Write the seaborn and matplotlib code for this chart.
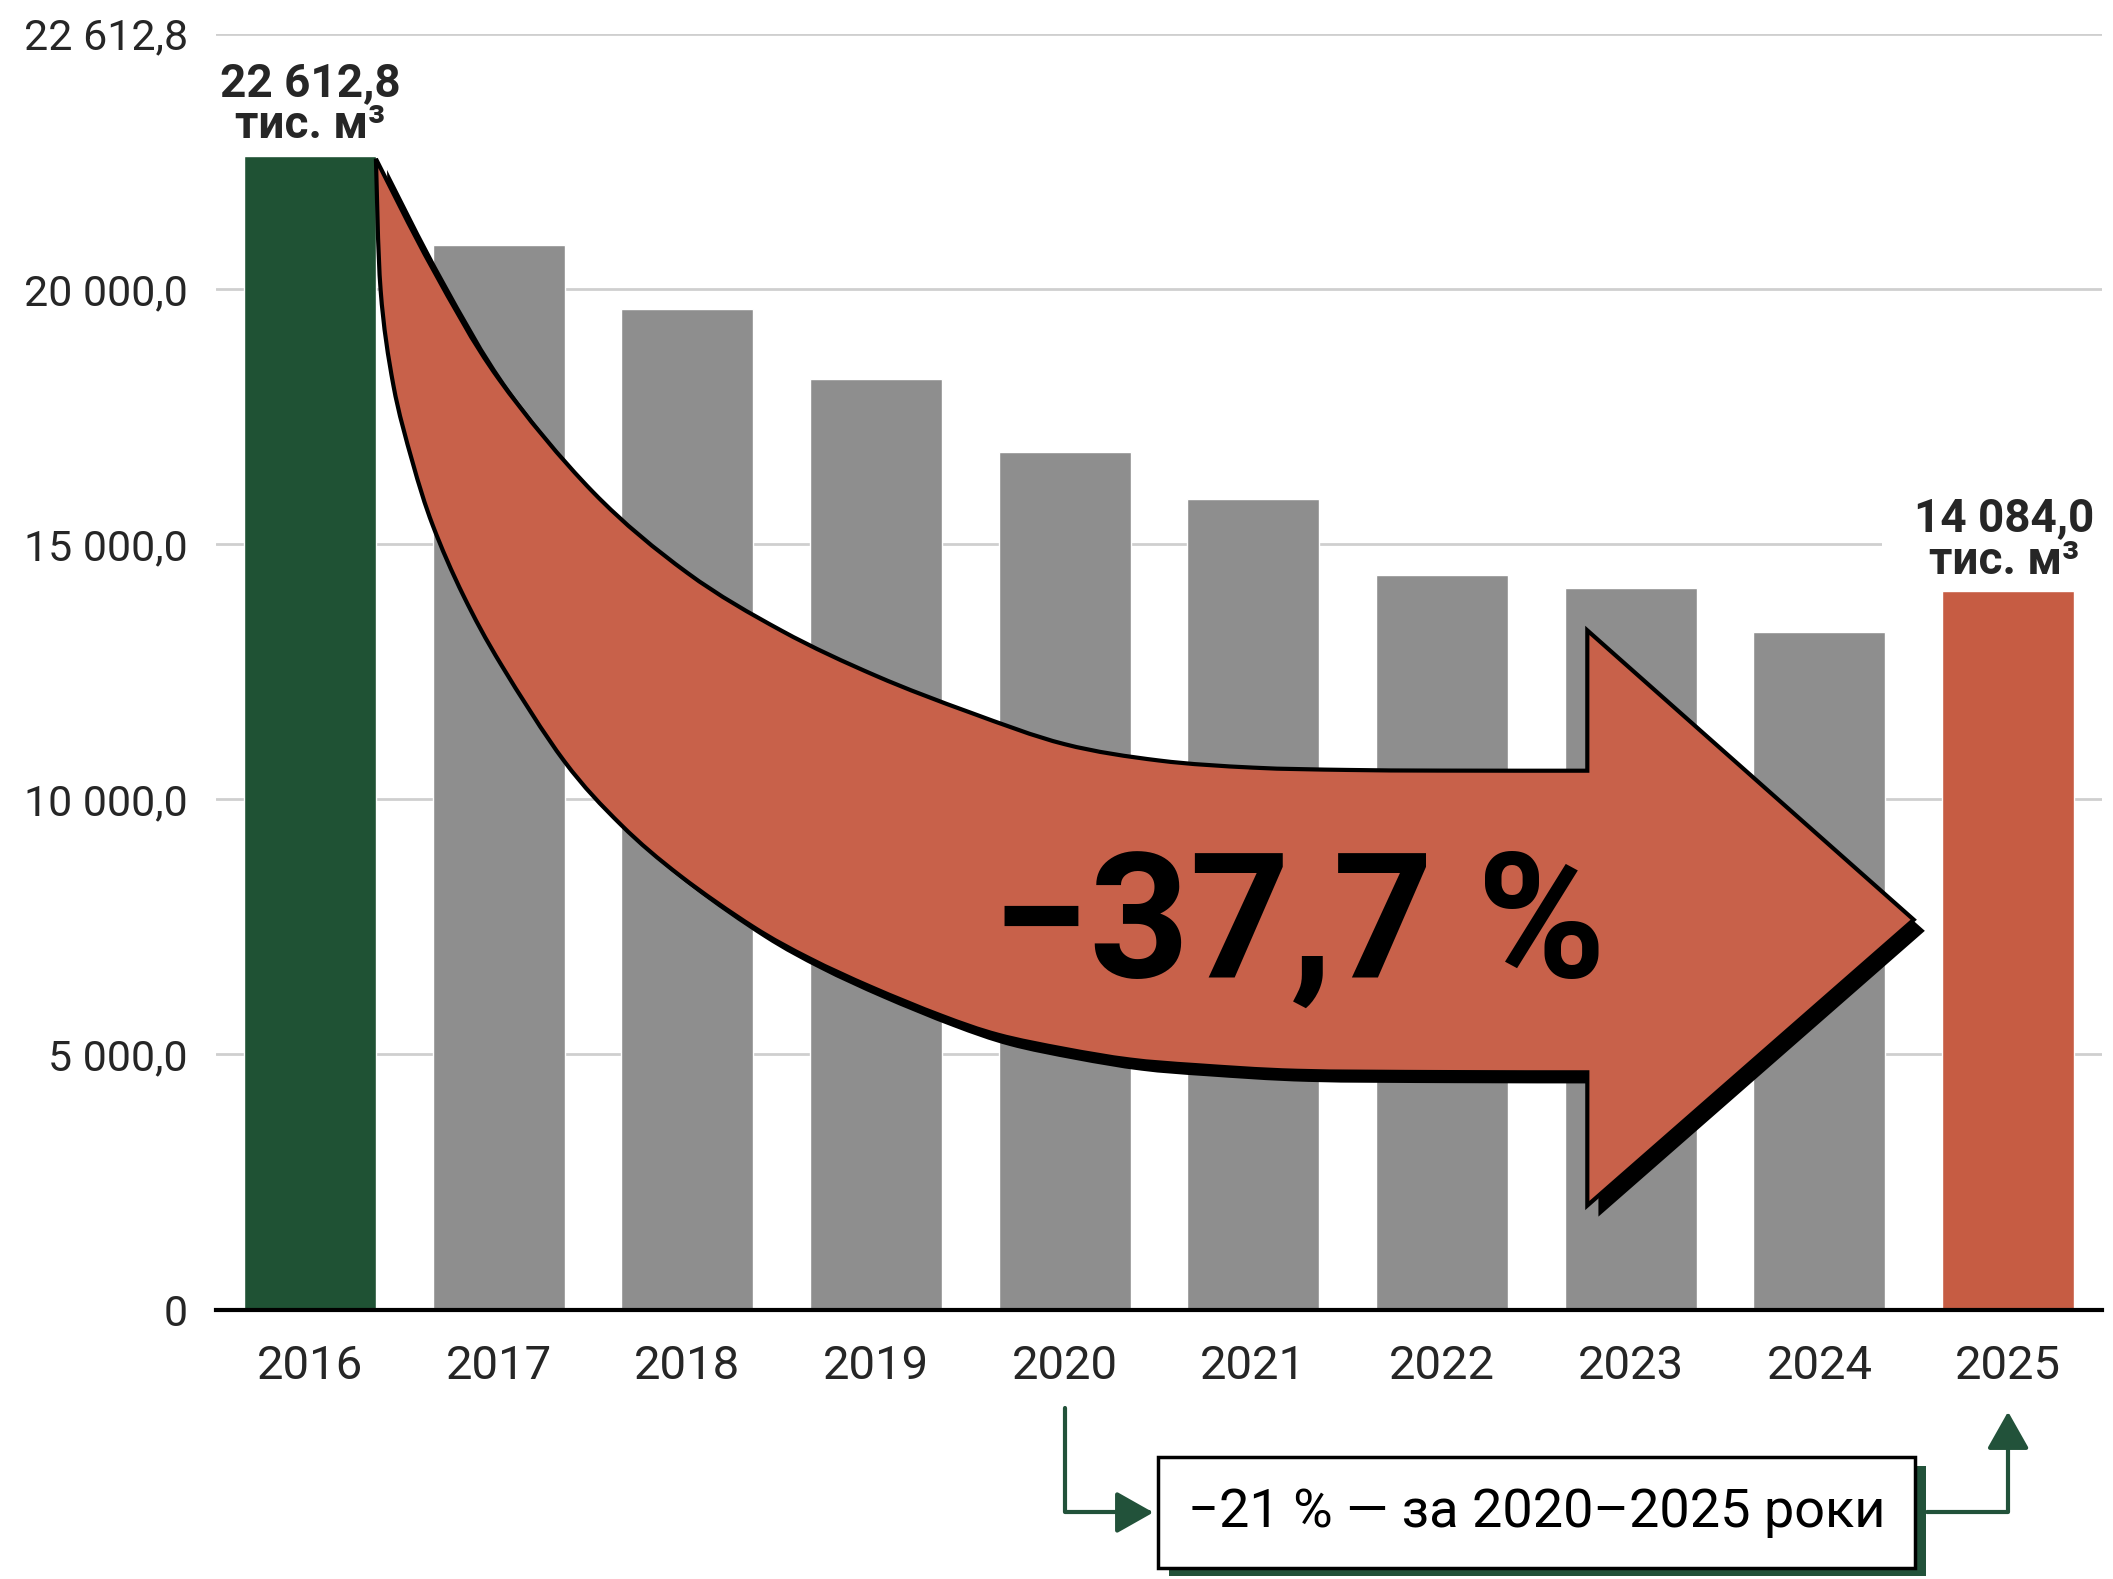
# %%
# Заготівля деревини 2016-2025: стовпчики + велика стрілка зі зміною
import matplotlib
matplotlib.use("Agg")
import matplotlib.pyplot as plt
import matplotlib.patheffects as pe
from matplotlib.path import Path
from matplotlib.patches import PathPatch
import matplotlib.transforms as mtransforms
import seaborn as sns
import pandas as pd

# %%
# Data
years = ["2016", "2017", "2018", "2019", "2020", "2021", "2022", "2023", "2024", "2025"]
values = [22612.8, 20870, 19600, 18230, 16810, 15880, 14400, 14140, 13270, 14084.0]
bar_colors = ["#1F5234", "#8E8E8E", "#8E8E8E", "#8E8E8E", "#8E8E8E",
              "#8E8E8E", "#8E8E8E", "#8E8E8E", "#8E8E8E", "#C65C43"]
ytick_values = [0, 5000, 10000, 15000, 20000, 25000]
ytick_labels = ["0", "5 000,0", "10 000,0", "15 000,0", "20 000,0", "22 612,8"]
first_label = "22 612,8\nтис. м³"
last_label = "14 084,0\nтис. м³"
change_label = "\u221237,7 %"
box_label = "\u221221 % \u2014 за 2020\u20132025 роки"

ARROW_FILL = "#C8614A"
DARK_GREEN = "#22523A"

df = pd.DataFrame({"year": years, "value": values})


def smooth_path(points):
    # Catmull-Rom through the points -> cubic bezier segments
    verts, codes = [], []
    n = len(points)
    for i in range(n - 1):
        p0 = points[max(i - 1, 0)]
        p1 = points[i]
        p2 = points[i + 1]
        p3 = points[min(i + 2, n - 1)]
        c1 = (p1[0] + (p2[0] - p0[0]) / 6, p1[1] + (p2[1] - p0[1]) / 6)
        c2 = (p2[0] - (p3[0] - p1[0]) / 6, p2[1] - (p3[1] - p1[1]) / 6)
        verts += [c1, c2, p2]
        codes += [Path.CURVE4] * 3
    return verts, codes


# %%
sns.set_style("white")
plt.rcParams["font.family"] = ["Roboto", "DejaVu Sans"]

fig = plt.figure(figsize=(21.13, 15.79), dpi=100)
ax = fig.add_axes([0.102, 0.1706, 0.893, 0.808])

sns.barplot(data=df, x="year", y="value", hue="year", legend=False,
            palette=dict(zip(years, bar_colors)), width=0.7, saturation=1,
            ax=ax, zorder=2)

ax.set_xlim(-0.5, 9.5)
ax.set_ylim(0, 25000)
ax.set_yticks(ytick_values)
ax.set_yticklabels(ytick_labels)
ax.set_xlabel("")
ax.set_ylabel("")
ax.tick_params(axis="y", length=0, pad=20, labelsize=31)
ax.tick_params(axis="x", length=0, pad=25, labelsize=34)
ax.set_axisbelow(True)
ax.yaxis.grid(True, color="#CFCFCF", linewidth=2)
for side in ["left", "right", "top"]:
    ax.spines[side].set_visible(False)
ax.spines["bottom"].set_color("black")
ax.spines["bottom"].set_linewidth(3)

# %%
# Value labels for first and last bar
ax.annotate(first_label, xy=(0, values[0]), xytext=(0, 6), textcoords="offset points",
            ha="center", va="bottom", fontsize=33, fontweight="bold",
            linespacing=0.95)
ax.annotate(last_label, xy=(len(years) - 1, values[-1]), xytext=(-3, 6),
            textcoords="offset points", ha="center", va="bottom", fontsize=33,
            fontweight="bold", linespacing=0.95, zorder=1.5,
            bbox=dict(boxstyle="square,pad=0.7", fc="white", ec="none"))

# %%
# Big curved arrow from the 2016 bar to the 2025 bar (shape)
tail = (0.35, 22550)
body_x, tip_x = 6.77, 8.5
body_top, body_bot = 10560, 4650
head_top, head_bot, tip_y = 13310, 2040, 7640

upper_edge = [tail, (0.65, 20400), (1.0, 18242), (1.5, 16022), (2.0, 14438),
              (2.5, 13303), (3.0, 12420), (3.5, 11700), (4.0, 11080), (4.5, 10760),
              (5.0, 10620), (5.5, 10575), (6.0, 10562), (body_x, body_top)]
lower_edge = [tail, (0.375, 19975), (0.443, 18105), (0.544, 16608), (0.652, 15361),
              (0.814, 13989), (1.017, 12618), (1.348, 10747), (1.649, 9500),
              (1.963, 8500), (2.348, 7504), (2.649, 6881), (2.976, 6320),
              (3.348, 5759), (3.649, 5385), (4.0, 5110), (4.348, 4900), (4.7, 4790),
              (5.233, 4680), (6.0, 4655), (body_x, body_bot)]

up_v, up_c = smooth_path(upper_edge)
lo_v, lo_c = smooth_path(lower_edge[::-1])
verts = [tail] + up_v + [(body_x, head_top), (tip_x, tip_y), (body_x, head_bot),
                         (body_x, body_bot)] + lo_v + [tail]
codes = [Path.MOVETO] + up_c + [Path.LINETO] * 4 + lo_c + [Path.CLOSEPOLY]

arrow = PathPatch(Path(verts, codes), facecolor=ARROW_FILL, edgecolor="black",
                  linewidth=3, zorder=4, joinstyle="miter")
arrow.set_path_effects([
    pe.SimplePatchShadow(offset=(8, -8), shadow_rgbFace="black", alpha=1.0),
    pe.Normal(),
])
ax.add_patch(arrow)

ax.text(5.24, 6520, change_label, ha="center", va="baseline", fontsize=126,
        fontweight="bold", color="black", zorder=5)

# %%
# Note below the axis: 2020 -> box -> 2025
trans = mtransforms.blended_transform_factory(ax.transData, ax.transAxes)
box_y = -0.1590

note = ax.text(6.5, box_y, box_label, transform=trans, ha="center", va="center",
               fontsize=39, color="black", zorder=5, clip_on=False,
               bbox=dict(boxstyle="square,pad=0.55", fc="white", ec="black", lw=2.5))
note.get_bbox_patch().set_path_effects([
    pe.SimplePatchShadow(offset=(8, -6), shadow_rgbFace=DARK_GREEN, alpha=1.0),
    pe.Normal(),
])

head = "-|>,head_length=2.3,head_width=1.3"
ax.annotate("", xy=(4.47, box_y), xycoords=trans, xytext=(4, -0.077), textcoords=trans,
            arrowprops=dict(arrowstyle=head, color=DARK_GREEN, lw=3, shrinkA=0, shrinkB=0,
                            connectionstyle="angle,angleA=90,angleB=0,rad=0"),
            annotation_clip=False)
ax.annotate("", xy=(9, -0.080), xycoords=trans, xytext=(8.57, box_y), textcoords=trans,
            arrowprops=dict(arrowstyle=head, color=DARK_GREEN, lw=3, shrinkA=0, shrinkB=0,
                            connectionstyle="angle,angleA=0,angleB=90,rad=0"),
            annotation_clip=False)

fig.savefig("out.png", dpi=100, facecolor="white")
